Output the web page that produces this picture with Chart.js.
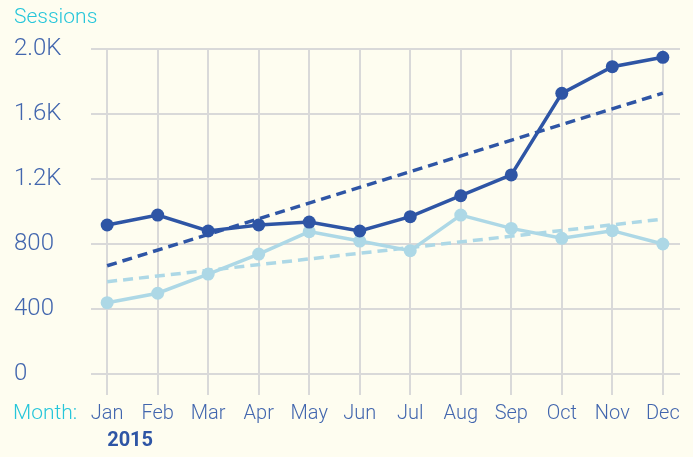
<!DOCTYPE html>
<html>
<head>
<meta charset="utf-8">
<script src="https://cdn.jsdelivr.net/npm/chart.js@4.4.1/dist/chart.umd.min.js"></script>
<style>
  html, body { margin: 0; padding: 0; background: #fefdf0; }
  #wrap { width: 693px; height: 457px; }
</style>
</head>
<body>
<div id="wrap"><canvas id="myChart"></canvas></div>
<script>
const months = ['Jan','Feb','Mar','Apr','May','Jun','Jul','Aug','Sep','Oct','Nov','Dec'];
const yearLabel = '2015';
const darkSessions = [917, 978, 880, 917, 935, 880, 968, 1097, 1225, 1727, 1891, 1949];
const lightSessions = [439, 497, 615, 738, 876, 818, 759, 978, 896, 835, 882, 800];
// trend line end points (Jan, Dec)
const darkTrend = [666, 1728];
const lightTrend = [568, 953];
const yTicks = [0, 400, 800, 1200, 1600, 2000];

const darkBlue = '#2e55a5';
const lightBlue = '#add8e6';
const teal = '#26c6da';
const tickBlue = '#4266ae';

const ctx = document.getElementById('myChart');

function toPoints(arr){
  return arr.map((v, i) => ({x: i, y: v}));
}
function trendPoints(ends){
  return [{x: 0, y: ends[0]}, {x: months.length - 1, y: ends[1]}];
}

const extraText = {
  id: 'extraText',
  afterDraw(chart){
    const c = chart.ctx;
    const xs = chart.scales.x;
    c.save();
    c.textBaseline = 'middle';
    c.textAlign = 'left';
    c.fillStyle = teal;
    c.font = '300 21px Roboto';
    c.fillText('Sessions', 14, 18);
    c.fillText('Month:', 13, 414);
    c.fillStyle = darkBlue;
    c.font = 'bold 20px Roboto';
    c.fillText(yearLabel, xs.getPixelForValue(0), 441);
    c.restore();
  }
};

new Chart(ctx, {
  type: 'line',
  data: {
    datasets: [
      {
        label: 'Sessions A',
        data: toPoints(darkSessions),
        borderColor: darkBlue,
        backgroundColor: darkBlue,
        borderWidth: 3.5,
        pointRadius: 6.5,
        pointBorderWidth: 0,
        order: 2
      },
      {
        label: 'Sessions B',
        data: toPoints(lightSessions),
        borderColor: lightBlue,
        backgroundColor: lightBlue,
        borderWidth: 3.5,
        pointRadius: 6.5,
        pointBorderWidth: 0,
        order: 3
      },
      {
        label: 'Trend A',
        data: trendPoints(darkTrend),
        borderColor: darkBlue,
        borderWidth: 3.5,
        borderDash: [10, 6],
        pointRadius: 0,
        order: 1
      },
      {
        label: 'Trend B',
        data: trendPoints(lightTrend),
        borderColor: lightBlue,
        borderWidth: 3.5,
        borderDash: [10, 6],
        pointRadius: 0,
        order: 4
      }
    ]
  },
  options: {
    responsive: true,
    maintainAspectRatio: false,
    animation: false,
    layout: { padding: { left: 14, top: 49, right: 13, bottom: 0 } },
    plugins: {
      legend: { display: false },
      tooltip: { enabled: false }
    },
    scales: {
      x: {
        type: 'linear',
        min: -0.32,
        max: 11.34,
        afterBuildTicks: scale => { scale.ticks = months.map((m, i) => ({value: i})); },
        afterFit: scale => { scale.height = 83; },
        border: { display: false },
        grid: { color: '#d9d9d9', lineWidth: 2, tickLength: 21 },
        ticks: {
          autoSkip: false,
          maxRotation: 0,
          padding: 7,
          color: tickBlue,
          font: { family: 'Roboto', size: 20, weight: '300' },
          callback: v => months[v]
        }
      },
      y: {
        min: 0,
        max: 2000,
        afterBuildTicks: scale => { scale.ticks = yTicks.map(v => ({value: v})); },
        afterFit: scale => { scale.width = 77; },
        border: { display: false },
        grid: { color: '#d9d9d9', lineWidth: 2, drawTicks: false },
        ticks: {
          crossAlign: 'far',
          padding: 8,
          color: tickBlue,
          font: { family: 'Roboto', size: 24, weight: '300' },
          callback: v => v >= 1000 ? (v / 1000).toFixed(1) + 'K' : String(v)
        }
      }
    }
  },
  plugins: [extraText]
});
</script>
</body>
</html>
